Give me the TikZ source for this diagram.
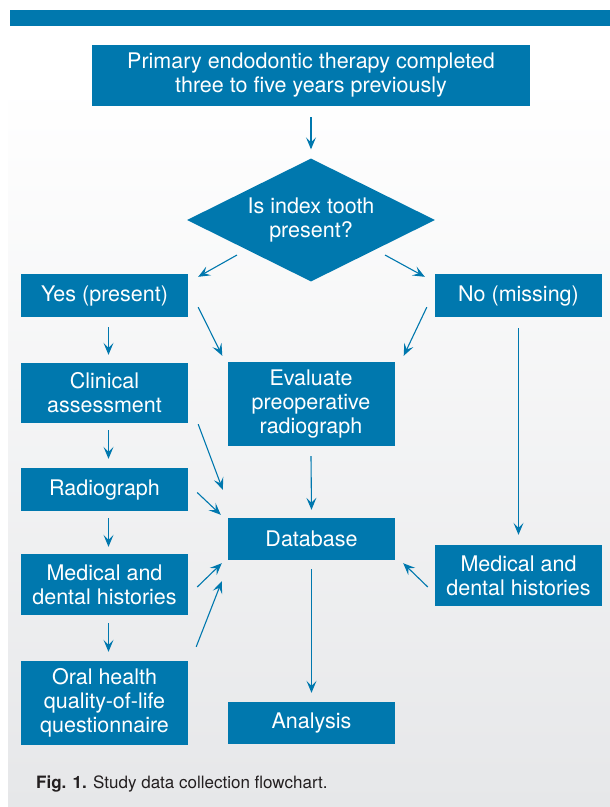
\documentclass[tikz,border=0pt]{standalone}
\usepackage{fontspec}
\setmainfont{TeX Gyre Heros}
\usetikzlibrary{arrows.meta,shapes.geometric}
\definecolor{flowblue}{RGB}{0,120,174}
\definecolor{panelgray}{RGB}{230,231,233}
\definecolor{captext}{RGB}{35,31,32}

\begin{document}
\begin{tikzpicture}[x=1pt,y=-1pt,
  box/.style={fill=flowblue,text=white,align=center,inner sep=0pt,
    minimum width=167pt,font=\fontsize{21.5}{24}\selectfont},
  decision/.style={diamond,aspect=2,fill=flowblue,text=white,align=center,
    inner sep=0pt,minimum width=248pt,minimum height=123pt,
    font=\fontsize{21.5}{24}\selectfont},
  arr/.style={flowblue,line width=1.1pt,-{Stealth[length=12pt,width=10pt,inset=5pt]}}]
\useasboundingbox (0,0) rectangle (610,807);
\fill[white] (0,0) rectangle (610,807);
\shade[top color=white,bottom color=panelgray] (8,85) rectangle (610,807);
\fill[white] (8,26) rectangle (610,85);
\fill[flowblue] (10,10) rectangle (610,26);

\node[box,minimum width=438pt,minimum height=61pt] (top) at (311,75.5)
  {Primary endodontic therapy completed\\three to five years previously};
\node[decision] (dia) at (311,220) {Is index tooth\\present?};

\node[box,minimum height=43pt] (yes) at (104.5,295.5) {Yes (present)};
\node[box,minimum height=43pt] (no) at (518.5,295.5) {No (missing)};
\node[box,minimum height=60pt] (clin) at (104.5,393) {Clinical\\assessment};
\node[box,minimum height=84pt] (eval) at (311,404) {Evaluate\\preoperative\\radiograph};
\node[box,minimum height=43pt] (rad) at (104.5,489.5) {Radiograph};
\node[box,minimum height=42pt] (db) at (311.5,539) {Database};
\node[box,minimum height=61pt] (medl) at (104.5,584.5) {Medical and\\dental histories};
\node[box,minimum height=61pt] (medr) at (518.5,575.5) {Medical and\\dental histories};
\node[box,minimum height=84pt] (oral) at (104.5,703) {Oral health\\quality-of-life\\questionnaire};
\node[box,minimum height=42pt] (ana) at (311.5,723) {Analysis};

\draw[arr] ([shift={(0,11)}]top.south) -- ([shift={(0,-9)}]dia.north);
\draw[arr] ([shift={(-74,35)}]dia.center) -- ([shift={(10,3)}]yes.north east);
\draw[arr] ([shift={(74,35)}]dia.center) -- ([shift={(-10,3)}]no.north west);
\draw[arr] ([shift={(10,-10)}]yes.south east) -- ([shift={(-5,-6)}]eval.north west);
\draw[arr] ([shift={(-8,-10)}]no.south west) -- ([shift={(9,-6)}]eval.north east);

\draw[arr] ([shift={(4,10)}]yes.south) -- ([shift={(4,-8)}]clin.north);
\draw[arr] ([shift={(4,7)}]clin.south) -- ([shift={(4,-9)}]rad.north);
\draw[arr] ([shift={(4,7)}]rad.south) -- ([shift={(4,-7)}]medl.north);
\draw[arr] ([shift={(4,8)}]medl.south) -- ([shift={(4,-9)}]oral.north);

\draw[arr] ([shift={(10,1)}]clin.south east) -- ([shift={(-5,-28)}]db.north west);
\draw[arr] ([shift={(9,3)}]rad.east) -- ([shift={(-7,-3)}]db.north west);
\draw[arr] ([shift={(9,2.5)}]medl.east) -- ([shift={(-6,3)}]db.south west);
\draw[arr] ([shift={(8,-14)}]oral.north east) -- ([shift={(-6,21)}]db.south west);

\draw[arr] ([shift={(0,10)}]eval.south) -- ([shift={(0,-8)}]db.north);
\draw[arr] ([shift={(0,9)}]db.south) -- ([shift={(0,-9)}]ana.north);
\draw[arr] ([shift={(0,11)}]no.south) -- ([shift={(0,-10)}]medr.north);
\draw[arr] ([shift={(-7,11.5)}]medr.west) -- ([shift={(8,3)}]db.south east);

\node[anchor=base west,text=captext,inner sep=0pt,font=\fontsize{17}{20}\selectfont]
  (cap) at (36,788) {\textbf{Fig. 1.} Study data collection flowchart.};
\end{tikzpicture}
\end{document}
